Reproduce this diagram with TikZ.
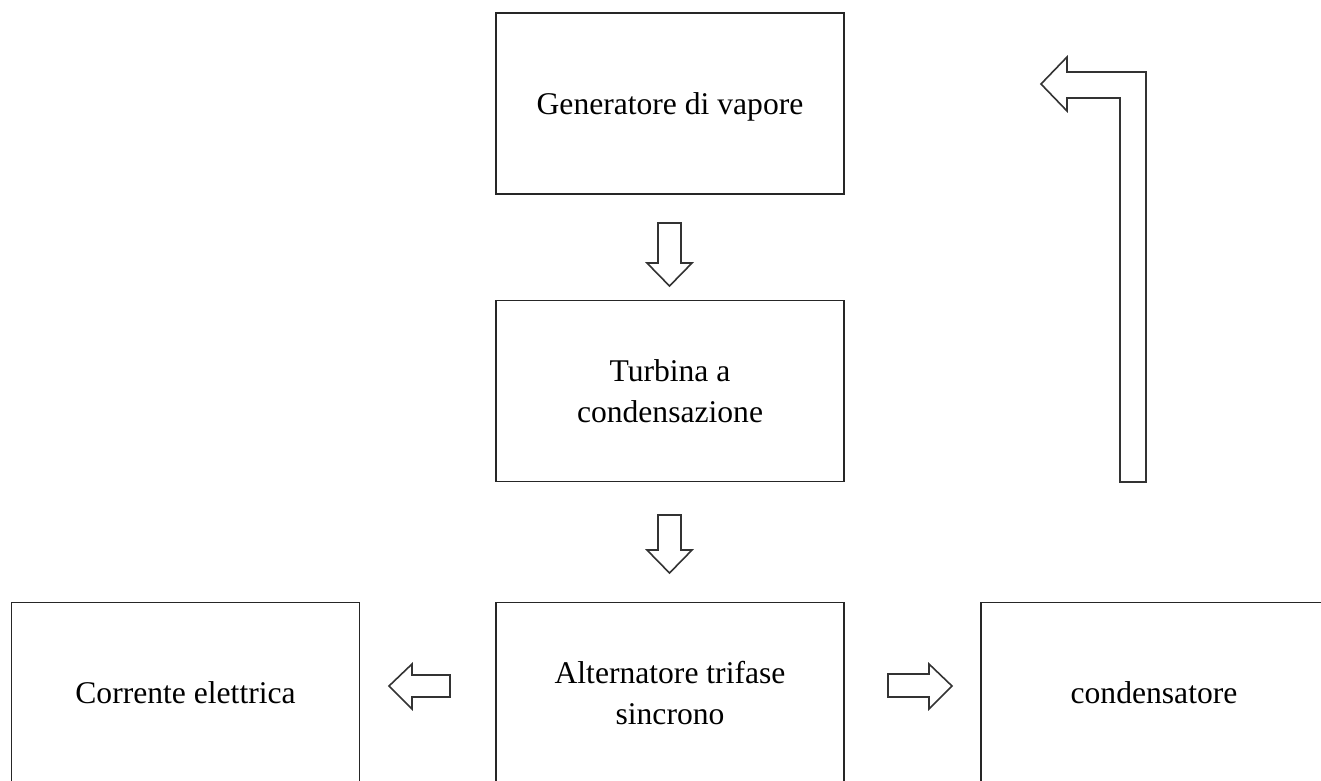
\documentclass[tikz,border=0pt]{standalone}
\usepackage{fontspec}
\setmainfont{Liberation Serif}
\begin{document}
\begin{tikzpicture}[x=1pt,y=-1pt,
  box/.style={draw=black!85,line width=1.8pt,minimum width=348pt,minimum height=181pt,inner sep=0pt,align=center,
     font=\fontsize{31.6pt}{41pt}\selectfont},
  blockarrow/.style={draw=black!80,line width=1.6pt,fill=white,line join=miter}]
\useasboundingbox (0,0) rectangle (1321,780);
\fill[white] (0,0) rectangle (1321,780);
\node[box,text depth=0pt] (gen)  at (670,103.5) {Generatore di vapore};
\node[box] (turb) at (670,391) {Turbina a\\condensazione};
\node[box] (alt)  at (670,693) {Alternatore trifase\\sincrono};
\node[box] (corr) at (185.5,693) {Corrente elettrica};
\node[box,minimum width=346pt] (cond) at (1154,693) {condensatore};
% down arrows
\draw[blockarrow] (658,223) -- (681,223) -- (681,263) -- (692,263) -- (669.5,286) -- (647,263) -- (658,263) -- cycle;
\draw[blockarrow] (658,515) -- (681,515) -- (681,550) -- (692,550) -- (669.5,573) -- (647,550) -- (658,550) -- cycle;
% side arrows
\draw[blockarrow] (450,675) -- (412,675) -- (412,664) -- (389,686) -- (412,709) -- (412,697) -- (450,697) -- cycle;
\draw[blockarrow] (888,674) -- (929,674) -- (929,664) -- (952,686) -- (929,709) -- (929,697) -- (888,697) -- cycle;
% bent return arrow
\draw[blockarrow] (1120,482) -- (1146,482) -- (1146,72) -- (1067,72) -- (1067,57) -- (1041,84) -- (1067,111) -- (1067,98) -- (1120,98) -- cycle;
\end{tikzpicture}
\end{document}
